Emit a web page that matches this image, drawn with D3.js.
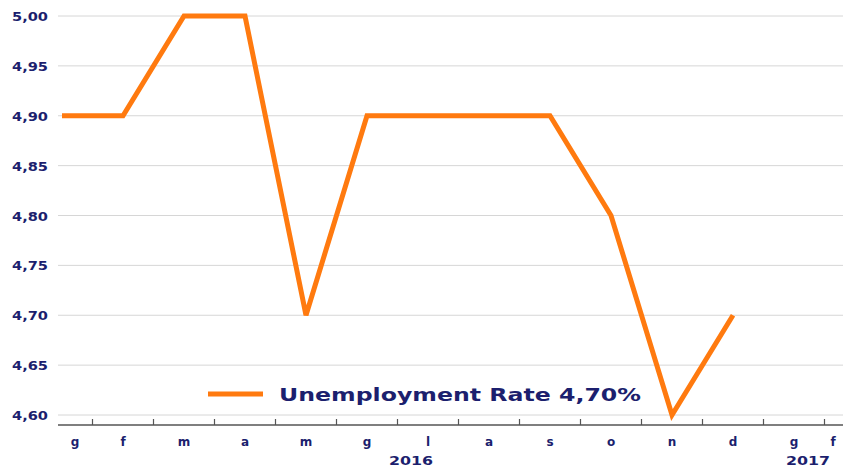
<!DOCTYPE html>
<html>
<head>
<meta charset="utf-8">
<script src="https://cdn.jsdelivr.net/npm/d3@7"></script>
<style>
  body { margin: 0; background: #fff; }
  svg { display: block; font-family: "DejaVu Sans", Verdana, sans-serif; }
</style>
</head>
<body>
<div id="chart"></div>
<script>
// months Jan 2016 .. Feb 2017 (Italian initials)
const months = ["g", "f", "m", "a", "m", "g", "l", "a", "s", "o", "n", "d", "g", "f"];
const years = [{ label: "2016", at: 5.72 }, { label: "2017", at: 12.23 }];
const rates = [4.90, 4.90, 5.00, 5.00, 4.70, 4.90, 4.90, 4.90, 4.90, 4.80, 4.60, 4.70];
const yTicks = [4.60, 4.65, 4.70, 4.75, 4.80, 4.85, 4.90, 4.95, 5.00];
const seriesName = "Unemployment Rate 4,70%";

const width = 843, height = 467;
const plotLeft = 58, axisY = 425;
const navy = "#1c1f6e";
const orange = "#ff7a0f";

const svg = d3.select("#chart").append("svg")
  .attr("width", width)
  .attr("height", height);

const x = d3.scaleLinear().domain([0, 13]).range([62, 855]);
const y = d3.scaleLinear().domain([4.60, 5.00]).range([415, 16]);
const fmt = v => d3.format(".2f")(v).replace(".", ",");

// grid
svg.append("g").selectAll("line")
  .data(yTicks)
  .join("line")
  .attr("x1", plotLeft).attr("x2", width)
  .attr("y1", d => y(d)).attr("y2", d => y(d))
  .attr("stroke", "#d6d6d6").attr("stroke-width", 1);

// y labels
svg.append("g").selectAll("text")
  .data(yTicks)
  .join("text")
  .attr("x", 48)
  .attr("y", d => y(d) + 5)
  .attr("text-anchor", "end")
  .attr("font-size", 13)
  .attr("font-weight", "bold")
  .attr("textLength", 36)
  .attr("lengthAdjust", "spacingAndGlyphs")
  .attr("fill", navy)
  .text(fmt);

// x axis line + ticks between months
svg.append("line")
  .attr("x1", plotLeft).attr("x2", width)
  .attr("y1", axisY).attr("y2", axisY)
  .attr("stroke", "#555").attr("stroke-width", 1.5);

svg.append("g").selectAll("line")
  .data(d3.range(months.length - 1))
  .join("line")
  .attr("x1", i => x(i + 0.5)).attr("x2", i => x(i + 0.5))
  .attr("y1", axisY).attr("y2", axisY - 6)
  .attr("stroke", "#555").attr("stroke-width", 1.2);

svg.append("g").selectAll("text")
  .data(months)
  .join("text")
  .attr("x", (d, i) => Math.max(75, Math.min(833, x(i))))
  .attr("y", 446)
  .attr("text-anchor", "middle")
  .attr("font-size", 12)
  .attr("font-weight", "bold")
  .attr("fill", navy)
  .text(d => d);

svg.append("g").selectAll("text")
  .data(years)
  .join("text")
  .attr("x", d => x(d.at))
  .attr("y", 465)
  .attr("text-anchor", "middle")
  .attr("font-size", 12)
  .attr("font-weight", "bold")
  .attr("textLength", 44)
  .attr("lengthAdjust", "spacingAndGlyphs")
  .attr("fill", navy)
  .text(d => d.label);

// series
const line = d3.line()
  .x((d, i) => x(i))
  .y(d => y(d));

svg.append("path")
  .attr("d", line(rates))
  .attr("fill", "none")
  .attr("stroke", orange)
  .attr("stroke-width", 5)
  .attr("stroke-linejoin", "miter");

// legend
svg.append("line")
  .attr("x1", 208).attr("x2", 263)
  .attr("y1", 394).attr("y2", 394)
  .attr("stroke", orange).attr("stroke-width", 5);

svg.append("text")
  .attr("x", 279)
  .attr("y", 401)
  .attr("font-size", 18)
  .attr("font-weight", "bold")
  .attr("textLength", 362)
  .attr("lengthAdjust", "spacingAndGlyphs")
  .attr("fill", navy)
  .text(seriesName);
</script>
</body>
</html>
